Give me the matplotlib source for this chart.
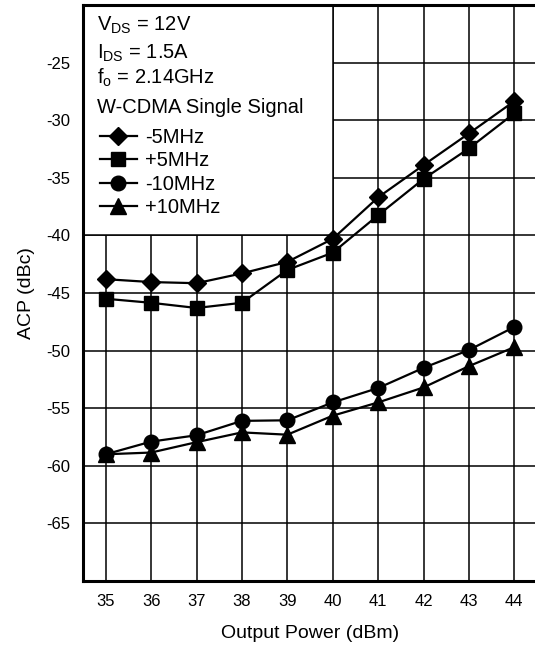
import matplotlib.pyplot as plt
from matplotlib.patches import Rectangle
from matplotlib.lines import Line2D

plt.rcParams['font.family'] = ['Liberation Sans', 'DejaVu Sans']
plt.rcParams['mathtext.fontset'] = 'custom'
plt.rcParams['mathtext.rm'] = 'Liberation Sans'
plt.rcParams['axes.unicode_minus'] = False

# Data
pout = [35, 36, 37, 38, 39, 40, 41, 42, 43, 44]
acp_m5 = [-43.8, -44.05, -44.15, -43.3, -42.3, -40.3, -36.7, -33.9, -31.15, -28.35]
acp_p5 = [-45.5, -45.85, -46.3, -45.85, -43.0, -41.5, -38.25, -35.1, -32.45, -29.4]
acp_m10 = [-59.0, -57.9, -57.35, -56.1, -56.05, -54.5, -53.25, -51.5, -49.95, -47.95]
acp_p10 = [-59.0, -58.85, -57.95, -57.1, -57.3, -55.65, -54.5, -53.2, -51.35, -49.7]
labels = ['-5MHz', '+5MHz', '-10MHz', '+10MHz']
yticks = [-65, -60, -55, -50, -45, -40, -35, -30, -25]

fig = plt.figure(figsize=(5.35, 6.45), dpi=100)
ax = fig.add_axes([83/535, 64/645, 454/535, 576/645])

ax.set_xlim(34.5, 44.5)
ax.set_ylim(-70, -20)
ax.set_xticks(pout)
ax.set_yticks(yticks)
ax.tick_params(length=0, labelsize=12, pad=9)
ax.set_axisbelow(True)
ax.grid(True, color='black', lw=1.1)
for s in ['left', 'top', 'bottom']:
    ax.spines[s].set_linewidth(2.2)
ax.spines['right'].set_visible(False)

ax.set_xlabel('Output Power (dBm)', fontsize=14, labelpad=12)
ax.set_ylabel('ACP (dBc)', fontsize=14, labelpad=8)

# white box behind the condition text / legend
ax.add_patch(Rectangle((34.5, -40), 40 - 34.5, 20, facecolor='white',
                       edgecolor='black', lw=1.1, zorder=1))

kw = dict(color='black', lw=1.6, zorder=3, clip_on=False)
ax.plot(pout, acp_m5, marker='D', ms=9.5, **kw)
ax.plot(pout, acp_p5, marker='s', ms=10.5, **kw)
ax.plot(pout, acp_m10, marker='o', ms=10.5, **kw)
ax.plot(pout, acp_p10, marker='^', ms=12, **kw)

tx = 0.031
fs = 14.5
ax.text(tx, 0.956, r'V$_{\mathrm{DS}}$ = 12V', transform=ax.transAxes, fontsize=fs, va='baseline')
ax.text(tx, 0.9065, r'I$_{\mathrm{DS}}$ = 1.5A', transform=ax.transAxes, fontsize=fs, va='baseline')
ax.text(tx, 0.863, r'f$_{\mathrm{o}}$ = 2.14GHz', transform=ax.transAxes, fontsize=fs, va='baseline')
ax.text(tx, 0.813, 'W-CDMA Single Signal', transform=ax.transAxes, fontsize=fs, va='baseline')

handles = [Line2D([], [], color='black', lw=1.6, marker=m, ms=s)
           for m, s in zip(['D', 's', 'o', '^'], [9.5, 10.5, 10.5, 12])]
ax.legend(handles, labels, loc='upper left', bbox_to_anchor=(0.037, 0.787),
          frameon=False, fontsize=fs, handlelength=1.85, handletextpad=0.4,
          labelspacing=0.22, borderpad=0, borderaxespad=0)

fig.savefig('out.png', dpi=100)
